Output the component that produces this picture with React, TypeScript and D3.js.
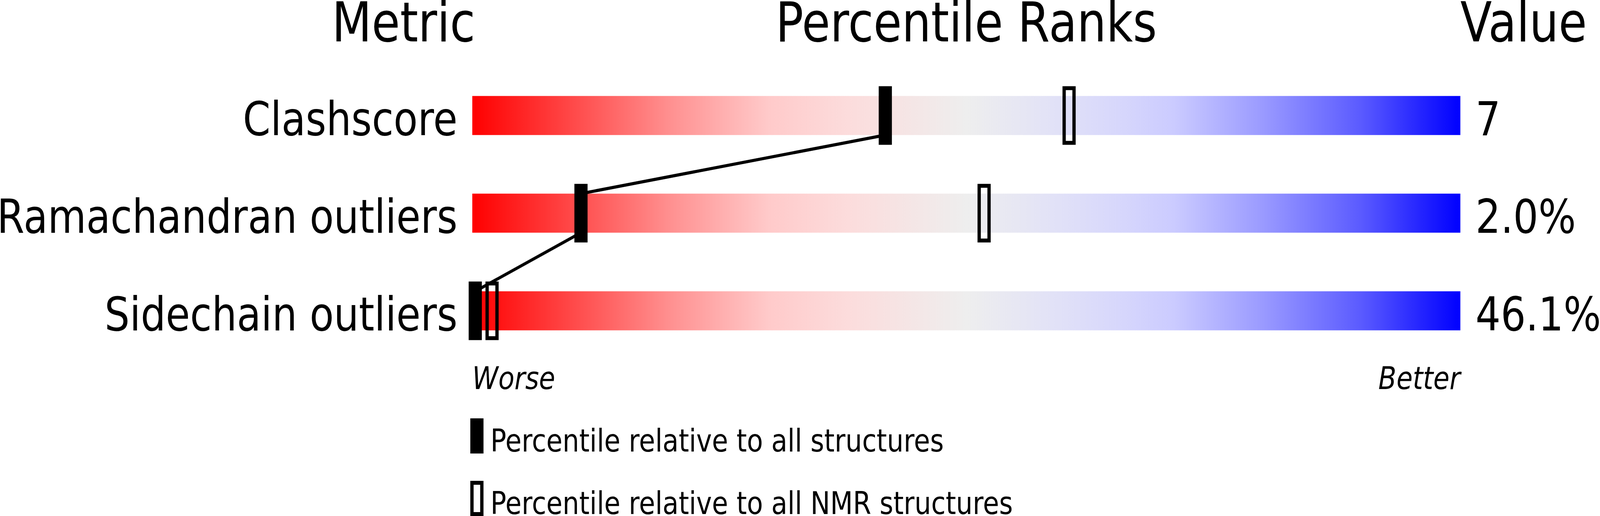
import React from 'react';
import * as d3 from 'd3';

const metrics = ['Clashscore', 'Ramachandran outliers', 'Sidechain outliers'];
const valueLabels = ['7', '2.0%', '46.1%'];
// percentile relative to all structures
const allPercentiles = [41.8, 11, 0.3];
// percentile relative to all NMR structures
const nmrPercentiles = [60.4, 51.8, 2];

const legendLabels = ['Percentile relative to all structures', 'Percentile relative to all NMR structures'];

// colour ramp of the slider, worse (red) -> better (blue)
const rampOffsets = [0, 0.1, 0.2, 0.3, 0.38, 0.5, 0.6, 0.66, 0.71, 0.8, 0.9, 1];
const rampColors = ['#ff0000', '#ff4848', '#ff9090', '#ffcaca', '#fcdcdc', '#eeeeee', '#e0e0f8', '#d6d6fc', '#cbcbff', '#9a9aff', '#5a5aff', '#0000ff'];

const W = 4858;
const H = 1321;
const FONT = '"DejaVu Sans", sans-serif';

export default function App() {
  const x = d3.scaleLinear().domain([0, 100]).range([1434, 4434]);
  const y = d3.scalePoint<string>().domain(metrics).range([295.7, 795.7]);
  const barH = 100;
  const markW = 40;
  const markH = 150;

  const top = (m: string) => (y(m) as number) - barH / 2;
  const bottom = (m: string) => (y(m) as number) + barH / 2;

  // polyline joining the "all structures" markers
  const pts: [number, number][] = [];
  metrics.forEach((m, i) => {
    if (i > 0) pts.push([x(allPercentiles[i]), top(m)]);
    if (i < metrics.length - 1) pts.push([x(allPercentiles[i]), bottom(m)]);
  });
  const linePath = d3.line()(pts) || '';

  return (
    <svg viewBox={`0 0 ${W} ${H}`} preserveAspectRatio="none"
      style={{ position: 'fixed', left: 0, top: 0, width: '100vw', height: '100vh', display: 'block', background: '#fff' }}
      fontFamily={FONT}>
      <defs>
        <linearGradient id="ramp" x1="0" x2="1" y1="0" y2="0">
          {rampOffsets.map((o, i) => (
            <stop key={i} offset={o} stopColor={rampColors[i]} />
          ))}
        </linearGradient>
      </defs>

      <text x={1443} y={106} fontSize={140} textAnchor="end">Metric</text>
      <text x={(x(0) + x(100)) / 2} y={106} fontSize={140} textAnchor="middle">Percentile Ranks</text>
      <text x={x(100)} y={106} fontSize={140} textAnchor="start">Value</text>

      {metrics.map((m, i) => (
        <g key={m}>
          <rect x={x(0)} y={top(m)} width={x(100) - x(0)} height={barH} fill="url(#ramp)" />
          <text x={1389} y={bottom(m)} fontSize={120} textAnchor="end">{m}</text>
          <text x={4480} y={bottom(m)} fontSize={120}>{valueLabels[i]}</text>
        </g>
      ))}

      <path d={linePath} fill="none" stroke="#000" strokeWidth={8} />

      {metrics.map((m, i) => (
        <g key={m + '-marks'}>
          <rect x={x(allPercentiles[i]) - markW / 2} y={(y(m) as number) - markH / 2}
            width={markW} height={markH} fill="#000" />
          <rect x={x(nmrPercentiles[i]) - markW / 2 + 5} y={(y(m) as number) - markH / 2 + 5}
            width={markW - 10} height={markH - 10} fill="none" stroke="#000" strokeWidth={10} />
        </g>
      ))}

      <text x={x(0)} y={996} fontSize={80} fontStyle="italic">Worse</text>
      <text x={x(100)} y={996} fontSize={80} fontStyle="italic" textAnchor="end">Better</text>

      <rect x={1428} y={1071} width={40} height={90} fill="#000" />
      <text x={1489} y={1156} fontSize={80}>{legendLabels[0]}</text>
      <rect x={1433} y={1236} width={30} height={80} fill="none" stroke="#000" strokeWidth={10} />
      <text x={1489} y={1316} fontSize={80}>{legendLabels[1]}</text>
    </svg>
  );
}
